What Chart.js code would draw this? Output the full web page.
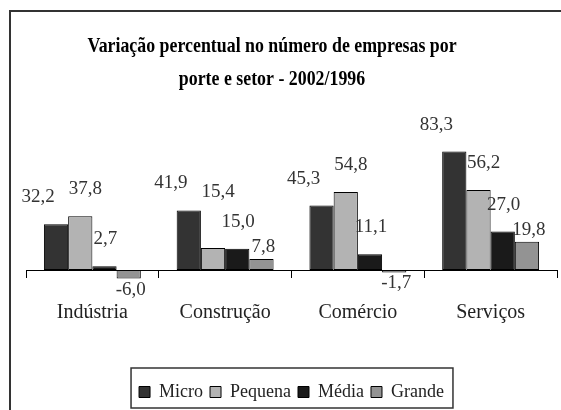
<!DOCTYPE html>
<html>
<head>
<meta charset="utf-8">
<script src="https://cdn.jsdelivr.net/npm/chart.js@4.4.0/dist/chart.umd.min.js"></script>
<style>
  html, body { margin: 0; padding: 0; background: #fff; }
  #wrap { width: 561px; height: 410px; }
</style>
</head>
<body>
<div id="wrap"><canvas id="barChart" width="561" height="410"></canvas></div>
<script>
const titleLines = ['Variação percentual no número de empresas por', 'porte e setor - 2002/1996'];
const sectors = ['Indústria', 'Construção', 'Comércio', 'Serviços'];
const sizes = ['Micro', 'Pequena', 'Média', 'Grande'];
const micro = [32.2, 41.9, 45.3, 83.3];
const pequena = [37.8, 15.4, 54.8, 56.2];
const media = [2.7, 15.0, 11.1, 27.0];
const grande = [-6.0, 7.8, -1.7, 19.8];

Chart.defaults.font.family = '"Liberation Serif", "Times New Roman", serif';

// outer frame + title (squeezed a little, like the original)
const framePlugin = {
  id: 'frame',
  beforeDraw(chart) {
    const c = chart.ctx;
    c.save();
    c.fillStyle = '#fff';
    c.fillRect(0, 0, chart.width, chart.height);
    c.strokeStyle = '#333';
    c.lineWidth = 2;
    c.beginPath();
    c.moveTo(10, chart.height);
    c.lineTo(10, 11);
    c.lineTo(chart.width, 11);
    c.stroke();
    c.fillStyle = '#000';
    c.font = 'bold 21px "Liberation Serif"';
    c.textAlign = 'center';
    c.textBaseline = 'middle';
    titleLines.forEach((t, i) => {
      c.save();
      c.translate(272, 47 + i * 33);
      c.scale(0.85, 1);
      c.fillText(t, 0, 0);
      c.restore();
    });
    c.restore();
  }
};

// value labels over / under each bar, nudged apart when they collide
const valueLabels = {
  id: 'valueLabels',
  afterDatasetsDraw(chart) {
    const c = chart.ctx;
    c.save();
    c.font = '19px "Liberation Serif"';
    c.fillStyle = '#333';
    c.textAlign = 'center';
    c.textBaseline = 'middle';
    const h = 18;
    const hit = (a, b) => Math.abs(a.x - b.x) < (a.w + b.w) / 2 && Math.abs(a.y - b.y) < h;
    chart.data.labels.forEach((_, j) => {
      const placed = [];
      chart.data.datasets.forEach((ds, i) => {
        const bar = chart.getDatasetMeta(i).data[j];
        const v = ds.data[j];
        const txt = v.toFixed(1).replace('.', ',');
        const lab = {
          txt,
          x: bar.x + (ds.labelDx || 0),
          y: v >= 0 ? bar.y - 27 : bar.y + 11,
          w: c.measureText(txt).width
        };
        const prev = placed.find(p => hit(p, lab));
        if (prev && v >= 0) {
          const low = Object.assign({}, lab, { y: bar.y - 12 });
          if (!hit(prev, low)) lab.y = low.y;
          else prev.y = lab.y - 30;
        }
        placed.push(lab);
      });
      placed.forEach(p => c.fillText(p.txt, p.x, p.y));
    });
    c.restore();
  }
};

// box round the legend
const legendBox = {
  id: 'legendBox',
  afterDraw(chart) {
    const hb = chart.legend.legendHitBoxes;
    if (!hb || !hb.length) return;
    const first = hb[0], last = hb[hb.length - 1];
    const c = chart.ctx;
    c.save();
    c.strokeStyle = '#333';
    c.lineWidth = 1.5;
    c.strokeRect(first.left - 8, first.top - 15, last.left + last.width - first.left + 17, 40);
    c.restore();
  }
};

const ctx = document.getElementById('barChart').getContext('2d');

const barChart = new Chart(ctx, {
  type: 'bar',
  data: {
    labels: sectors,
    datasets: [
      { label: sizes[0], data: micro, backgroundColor: '#333333', labelDx: -18 },
      { label: sizes[1], data: pequena, backgroundColor: '#b3b3b3', labelDx: 5 },
      { label: sizes[2], data: media, backgroundColor: '#1a1a1a', labelDx: 1 },
      { label: sizes[3], data: grande, backgroundColor: '#939393', labelDx: 2 }
    ]
  },
  options: {
    responsive: false,
    animation: false,
    datasets: {
      bar: {
        borderColor: '#000',
        borderWidth: 1,
        borderSkipped: false,
        categoryPercentage: 0.73,
        barPercentage: 1
      }
    },
    layout: {
      padding: { top: 142, left: 26, right: 4, bottom: -1 }
    },
    plugins: {
      title: { display: false },
      tooltip: { enabled: false },
      legend: {
        display: true,
        position: 'bottom',
        labels: {
          color: '#222',
          boxWidth: 11,
          boxHeight: 11,
          padding: 7,
          font: { size: 18 }
        }
      }
    },
    scales: {
      y: {
        display: false,
        min: -74.5,
        max: 90
      },
      x: {
        position: { y: 0 },
        grid: {
          offset: true,
          drawOnChartArea: false,
          drawTicks: true,
          tickLength: 7,
          color: '#000'
        },
        border: { display: true, color: '#000', width: 1 },
        ticks: {
          color: '#222',
          padding: 24,
          maxRotation: 0,
          autoSkip: false,
          font: { size: 20 }
        }
      }
    }
  },
  plugins: [framePlugin, valueLabels, legendBox]
});
</script>
</body>
</html>
